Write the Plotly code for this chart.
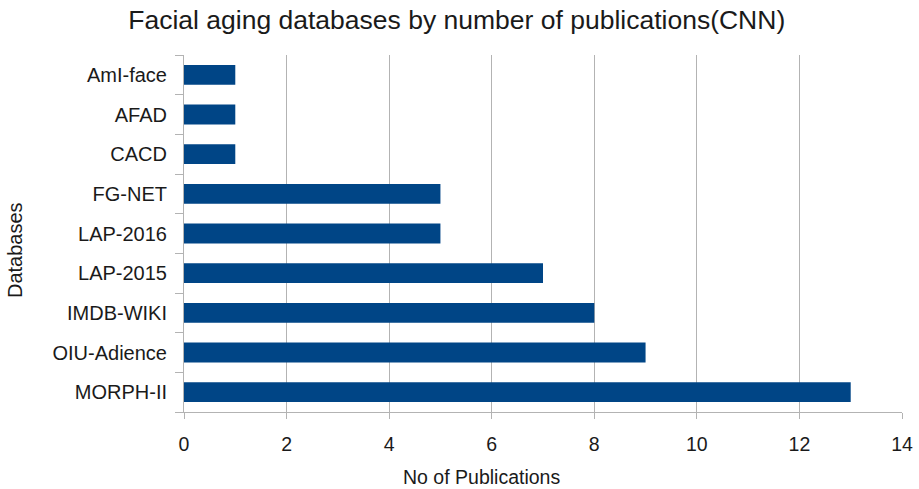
import plotly.graph_objects as go

databases = ["MORPH-II", "OIU-Adience", "IMDB-WIKI", "LAP-2015", "LAP-2016", "FG-NET", "CACD", "AFAD", "AmI-face"]
publications = [13, 9, 8, 7, 5, 5, 1, 1, 1]
x_ticks = [0, 2, 4, 6, 8, 10, 12, 14]

font = "Liberation Sans, Arial, sans-serif"
fig = go.Figure(go.Bar(
    x=publications, y=databases, orientation="h",
    marker=dict(color="#004586", line=dict(width=0)),
    width=0.5,
))
fig.update_layout(
    width=919, height=489,
    margin=dict(l=184, r=17, t=55, b=77),
    paper_bgcolor="white", plot_bgcolor="white",
    font=dict(family=font, color="#1a1a1a", size=20),
    title=dict(text="Facial aging databases by number of publications(CNN)",
               x=0.497, xref="container", xanchor="center",
               y=1 - 20 / 489, yref="container", yanchor="middle",
               font=dict(size=26.5, color="#1a1a1a")),
    showlegend=False,
    annotations=[
        dict(text="No of Publications", xref="paper", yref="paper",
             x=(481 - 184) / 718, y=-(477 - 412) / 357, xanchor="center", yanchor="middle",
             showarrow=False, font=dict(size=19.5, color="#1a1a1a")),
        dict(text="Databases", xref="paper", yref="paper", textangle=-90,
             x=-(184 - 15) / 718, y=(412 - 250) / 357, xanchor="center", yanchor="middle",
             showarrow=False, font=dict(size=20, color="#1a1a1a")),
    ],
)
fig.update_xaxes(range=[0, 14], tickvals=x_ticks, showgrid=True, gridcolor="#b3b3b3", gridwidth=1,
                 showline=True, linecolor="#b3b3b3", ticks="outside", ticklen=6, tickcolor="#b3b3b3",
                 zeroline=False, tickfont=dict(size=19.5), ticklabelstandoff=9, automargin=False)
fig.update_yaxes(showline=True, linecolor="#b3b3b3", ticks="outside", ticklen=8, tickcolor="#b3b3b3",
                 tickson="boundaries", showgrid=False, tickfont=dict(size=20), ticklabelstandoff=12,
                 automargin=False)
fig.write_html("out.html")
